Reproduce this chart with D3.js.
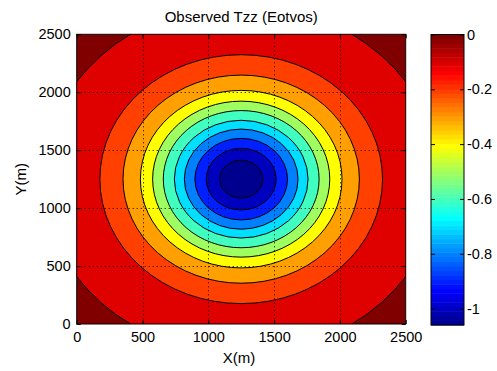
<!DOCTYPE html>
<html>
<head>
<meta charset="utf-8">
<script src="https://cdn.jsdelivr.net/npm/d3@7"></script>
<style>
  body { margin: 0; background: #fff; }
  text { font-family: "Liberation Sans", Arial, sans-serif; fill: #000; }
</style>
</head>
<body>
<svg id="chart" width="497" height="371"></svg>
<script>
// contour levels (Eotvos) and the radius (m) of each ring
const levels = [-1.0, -0.9, -0.8, -0.7, -0.6, -0.5, -0.4, -0.3, -0.2, -0.1, 0.0];
const radii  = [163, 266, 352, 432, 508, 592, 673, 766, 898, 1074, 1507];
const centre = [1250, 1250];
const dataRange = [-1.06, 0.0];
const axisTicks = [0, 500, 1000, 1500, 2000, 2500];
const cbarTicks = [0, -0.2, -0.4, -0.6, -0.8, -1];

// MATLAB jet(n) colormap
function jetMap(n) {
  const m = Math.ceil(n / 4);
  const u = [];
  for (let k = 1; k <= m; k++) u.push(k / m);
  for (let k = 1; k < m; k++) u.push(1);
  for (let k = m; k >= 1; k--) u.push(k / m);
  const off = Math.ceil(m / 2) - (n % 4 === 1 ? 1 : 0);
  const J = Array.from({ length: n }, () => [0, 0, 0]);
  u.forEach((v, k) => {
    const g = off + k + 1, r = g + m, b = g - m;
    if (g >= 1 && g <= n) J[g - 1][1] = v;
    if (r >= 1 && r <= n) J[r - 1][0] = v;
    if (b >= 1 && b <= n) J[b - 1][2] = v;
  });
  return J.map(c => d3.rgb(c[0] * 255, c[1] * 255, c[2] * 255).formatHex());
}
const jet = jetMap(64);
const colorOf = v => {
  const t = (v - dataRange[0]) / (dataRange[1] - dataRange[0]);
  const i = Math.max(0, Math.min(63, Math.floor(t * 64)));
  return jet[i];
};

const svg = d3.select("#chart");
const P = { l: 76.7, r: 405.7, t: 34.3, b: 324 };
const x = d3.scaleLinear().domain([0, 2500]).range([P.l, P.r]);
const y = d3.scaleLinear().domain([0, 2500]).range([P.b, P.t]);

svg.append("clipPath").attr("id", "plot-clip")
  .append("rect")
    .attr("x", P.l).attr("y", P.t)
    .attr("width", P.r - P.l).attr("height", P.b - P.t);

const plot = svg.append("g").attr("clip-path", "url(#plot-clip)");

// region above the top level
plot.append("rect")
  .attr("x", P.l).attr("y", P.t)
  .attr("width", P.r - P.l).attr("height", P.b - P.t)
  .attr("fill", colorOf(levels[levels.length - 1]));

// filled bands, outermost first; each band takes the colour of its lower level
const rings = levels.map((lv, i) => ({ lv, r: radii[i], fillV: i > 0 ? levels[i - 1] : dataRange[0] }))
  .reverse();

plot.selectAll("ellipse.band")
  .data(rings)
  .join("ellipse")
    .attr("class", "band")
    .attr("cx", x(centre[0]))
    .attr("cy", y(centre[1]))
    .attr("rx", d => x(d.r) - x(0))
    .attr("ry", d => y(0) - y(d.r))
    .attr("fill", d => colorOf(d.fillV))
    .attr("stroke", "#000")
    .attr("stroke-width", 1);

// dotted grid
const grid = svg.append("g").attr("stroke", "#000").attr("stroke-width", 1)
  .attr("stroke-dasharray", "1,3");
grid.selectAll("line.gx").data(axisTicks.slice(1, -1)).join("line")
  .attr("x1", d => Math.round(x(d)) + 0.5).attr("x2", d => Math.round(x(d)) + 0.5)
  .attr("y1", P.t).attr("y2", P.b);
grid.selectAll("line.gy").data(axisTicks.slice(1, -1)).join("line")
  .attr("y1", d => Math.round(y(d)) + 0.5).attr("y2", d => Math.round(y(d)) + 0.5)
  .attr("x1", P.l).attr("x2", P.r);

// axes with inward ticks
function styleAxis(g) {
  g.attr("font-family", null).attr("font-size", null);
  g.select(".domain").remove();
  g.selectAll("text").attr("font-size", 14.5);
}
svg.append("g").attr("transform", `translate(0,${P.b})`)
  .call(d3.axisBottom(x).tickValues(axisTicks).tickSize(-4).tickPadding(8).tickFormat(d => String(d)))
  .call(styleAxis);
svg.append("g").attr("transform", `translate(0,${P.t})`)
  .call(d3.axisTop(x).tickValues(axisTicks).tickSize(-4).tickFormat(""))
  .call(styleAxis);
svg.append("g").attr("transform", `translate(${P.l},0)`)
  .call(d3.axisLeft(y).tickValues(axisTicks).tickSize(-4).tickPadding(6).tickFormat(d => String(d)))
  .call(styleAxis);
svg.append("g").attr("transform", `translate(${P.r},0)`)
  .call(d3.axisRight(y).tickValues(axisTicks).tickSize(-4).tickFormat(""))
  .call(styleAxis);

svg.append("rect")
  .attr("x", P.l).attr("y", P.t)
  .attr("width", P.r - P.l).attr("height", P.b - P.t)
  .attr("fill", "none").attr("stroke", "#000");

// titles
svg.append("text").attr("x", (P.l + P.r) / 2).attr("y", 22)
  .attr("text-anchor", "middle").attr("font-size", 15).text("Observed Tzz (Eotvos)");
svg.append("text").attr("x", 239).attr("y", 363)
  .attr("text-anchor", "middle").attr("font-size", 15).text("X(m)");
svg.append("text").attr("transform", `translate(26,${(P.t + P.b) / 2}) rotate(-90)`)
  .attr("text-anchor", "middle").attr("font-size", 15).text("Y(m)");

// colorbar
const C = { l: 431, r: 464, t: 34.5, b: 325 };
const cy = d3.scaleLinear().domain(dataRange).range([C.b, C.t]);
const step = (dataRange[1] - dataRange[0]) / jet.length;
svg.append("g").selectAll("rect")
  .data(jet)
  .join("rect")
    .attr("x", C.l)
    .attr("width", C.r - C.l)
    .attr("y", (d, i) => cy(dataRange[0] + (i + 1) * step))
    .attr("height", (d, i) => cy(dataRange[0] + i * step) - cy(dataRange[0] + (i + 1) * step) + 0.5)
    .attr("fill", d => d);

svg.append("g").attr("transform", `translate(${C.r},0)`)
  .call(d3.axisRight(cy).tickValues(cbarTicks).tickSize(-4).tickPadding(3).tickFormat(d => String(d)))
  .call(styleAxis);
svg.append("g").attr("transform", `translate(${C.l},0)`)
  .call(d3.axisLeft(cy).tickValues(cbarTicks).tickSize(-4).tickFormat(""))
  .call(styleAxis);

svg.append("rect")
  .attr("x", C.l).attr("y", C.t)
  .attr("width", C.r - C.l).attr("height", C.b - C.t)
  .attr("fill", "none").attr("stroke", "#000");
</script>
</body>
</html>
